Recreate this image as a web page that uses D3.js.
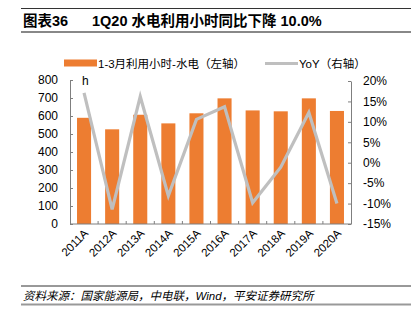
<!DOCTYPE html>
<html>
<head>
<meta charset="utf-8">
<script src="https://cdn.jsdelivr.net/npm/d3@7"></script>
<style>
  body { margin: 0; background: #fff; }
  svg text { font-family: "Liberation Sans", Arial, "Noto Sans CJK SC", sans-serif; fill: #000; }
</style>
</head>
<body>
<svg id="chart" width="411" height="321"></svg>
<script>
// 水电利用小时 (1-3月) and year-over-year change
var years = ["2011A", "2012A", "2013A", "2014A", "2015A", "2016A", "2017A", "2018A", "2019A", "2020A"];
var hours = [590, 526, 607, 559, 615, 698, 631, 626, 698, 628];
var yoy = [17.1, -11.4, 16.2, -8.1, 10.6, 13.7, -9.8, -1.1, 12.3, -10.0];
var leftTicks = [0, 100, 200, 300, 400, 500, 600, 700, 800];
var rightTicks = [-15, -10, -5, 0, 5, 10, 15, 20];

var svg = d3.select("#chart");
var plotLeft = 70, plotRight = 351, plotTop = 80, plotBottom = 224;
var axisColor = "#7f7f7f";

var x = d3.scaleBand().domain(years).range([plotLeft, plotRight]).paddingInner(0.5).paddingOuter(0.25);
var yL = d3.scaleLinear().domain([0, 800]).range([plotBottom, plotTop]);
var yR = d3.scaleLinear().domain([-15, 20]).range([plotBottom, plotTop + 1]);

// title block
svg.append("line").attr("x1", 21).attr("x2", 411).attr("y1", 8.5).attr("y2", 8.5)
    .attr("stroke", "#333").attr("stroke-width", 1);
svg.append("line").attr("x1", 21).attr("x2", 411).attr("y1", 32).attr("y2", 32)
    .attr("stroke", "#888").attr("stroke-width", 2);
svg.append("text").attr("x", 23).attr("y", 26)
    .style("font-size", "14.5px").style("font-weight", "bold")
    .text("图表36");
svg.append("text").attr("x", 92).attr("y", 26)
    .style("font-size", "14.5px").style("font-weight", "bold")
    .text("1Q20 水电利用小时同比下降 10.0%");

// legend
svg.append("rect").attr("x", 64).attr("y", 59.5).attr("width", 33).attr("height", 7)
    .attr("fill", "#ED7D31");
svg.append("text").attr("x", 98).attr("y", 67.5).style("font-size", "11.5px")
    .text("1-3月利用小时-水电（左轴）");
svg.append("line").attr("x1", 265).attr("x2", 298).attr("y1", 63.5).attr("y2", 63.5)
    .attr("stroke", "#BFBFBF").attr("stroke-width", 3);
svg.append("text").attr("x", 299).attr("y", 67.5).style("font-size", "11.5px")
    .text("YoY（右轴）");

// bars
svg.append("g").selectAll("rect")
    .data(hours)
    .enter()
    .append("rect")
    .attr("x", function (d, i) { return x(years[i]); })
    .attr("y", function (d) { return yL(d); })
    .attr("width", x.bandwidth())
    .attr("height", function (d) { return yL(0) - yL(d); })
    .attr("fill", "#ED7D31");

// yoy line
var line = d3.line()
    .x(function (d, i) { return x(years[i]) + x.bandwidth() / 2; })
    .y(function (d) { return yR(d); });
svg.append("path").datum(yoy)
    .attr("d", line)
    .attr("fill", "none")
    .attr("stroke", "#BFBFBF")
    .attr("stroke-width", 3.2)
    .attr("stroke-linejoin", "miter");

// left axis
var gL = svg.append("g").attr("transform", "translate(" + plotLeft + ",0)")
    .call(d3.axisLeft(yL).tickValues(leftTicks).tickSizeInner(-3).tickSizeOuter(0).tickPadding(12));
// right axis
var gR = svg.append("g").attr("transform", "translate(" + plotRight + ",0)")
    .call(d3.axisRight(yR).tickValues(rightTicks).tickSizeInner(-3).tickSizeOuter(0).tickPadding(12)
        .tickFormat(function (d) { return d + "%"; }));
// bottom axis with ticks at band edges
var edges = years.map(function (d) { return x(d) - x.step() * x.paddingInner() / 2; }).slice(1);
var gB = svg.append("g").attr("transform", "translate(0," + plotBottom + ")");
gB.append("line").attr("x1", plotLeft).attr("x2", plotRight).attr("stroke", axisColor);
gB.selectAll(".tk").data(edges).enter().append("line")
    .attr("x1", function (d) { return d; }).attr("x2", function (d) { return d; })
    .attr("y1", 0).attr("y2", -3).attr("stroke", axisColor);
gB.selectAll("text").data(years).enter().append("text")
    .attr("text-anchor", "end")
    .style("font-size", "11.5px")
    .attr("transform", function (d) {
        return "translate(" + (x(d) + x.bandwidth() / 2 + 5) + ",10) rotate(-45)";
    })
    .text(function (d) { return d; });

[gL, gR].forEach(function (g) {
    g.select(".domain").attr("stroke", axisColor);
    g.selectAll(".tick line").attr("stroke", axisColor);
    g.selectAll(".tick text").style("font-size", "12px").style("fill", "#000");
});

svg.append("text").attr("x", 82).attr("y", 84.5).style("font-size", "12px").text("h");

// source note
svg.append("line").attr("x1", 21).attr("x2", 411).attr("y1", 286).attr("y2", 286)
    .attr("stroke", "#333").attr("stroke-width", 1);
svg.append("text").attr("x", 23).attr("y", 300)
    .style("font-size", "11.5px").style("font-style", "italic")
    .text("资料来源：国家能源局，中电联，Wind，平安证券研究所");
svg.append("line").attr("x1", 21).attr("x2", 411).attr("y1", 304.5).attr("y2", 304.5)
    .attr("stroke", "#999").attr("stroke-width", 2);
</script>
</body>
</html>
